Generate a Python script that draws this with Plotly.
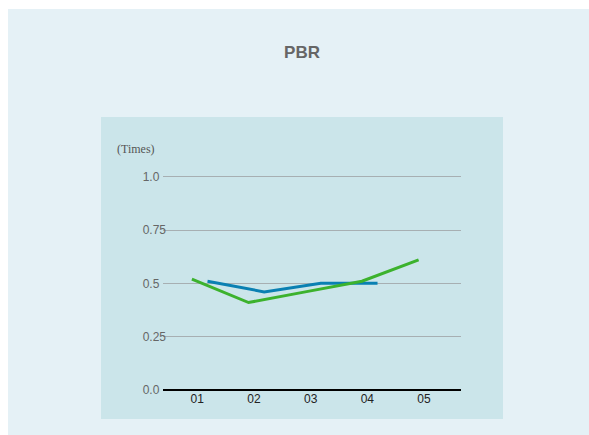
import plotly.graph_objects as go

# Fiscal-year categories and PBR values (times)
years = ["01", "02", "03", "04", "05"]
pbr_company = [0.51, 0.46, 0.50, 0.50]
pbr_market = [0.52, 0.41, 0.46, 0.51, 0.61]
y_ticks = [0.0, 0.25, 0.5, 0.75, 1.0]
y_tick_labels = ["0.0", "0.25", "0.5", "0.75", "1.0"]

W, H = 589, 435
OUTER_BG = "#e5f1f6"
INNER_BG = "#cbe5ea"
BLUE = "#0a80b2"
GREEN = "#3cb22d"

# slight horizontal offsets so the two series sit side by side on each category
OFFSET_COMPANY = 0.18
OFFSET_MARKET = -0.095

idx = list(range(len(years)))

fig = go.Figure()
fig.add_trace(go.Scatter(
    x=[i + OFFSET_COMPANY for i in idx[:len(pbr_company)]], y=pbr_company,
    mode="lines", line=dict(color=BLUE, width=3), name="Company",
    hoverinfo="skip",
))
fig.add_trace(go.Scatter(
    x=[i + OFFSET_MARKET for i in idx], y=pbr_market,
    mode="lines", line=dict(color=GREEN, width=3), name="Market",
    hoverinfo="skip",
))

# margins put the paper area on the inner panel; axes sit inside it
L, R, T, B = 101, 86, 117, 16
pw, ph = W - L - R, H - T - B

def px_x(p):
    return (p - L) / pw

def px_y(p):
    return (H - B - p) / ph

Y_TOP = 1.02          # a little headroom so the 1.0 grid line is drawn
PX_PER_UNIT = 213.3   # pixels per 1.0 on the value axis
Y_ZERO_PX = 390

fig.update_layout(
    template="none",
    width=W, height=H,
    margin=dict(l=L, r=R, t=T, b=B, pad=0, autoexpand=False),
    paper_bgcolor="white",
    plot_bgcolor="rgba(0,0,0,0)",
    showlegend=False,
    font=dict(family="Liberation Sans, Arial, sans-serif"),
    title=dict(
        text="<b>PBR</b>", xref="paper", x=0.5, xanchor="center",
        yref="container", y=1 - 52 / H, yanchor="middle",
        font=dict(size=17, color="#666666"),
    ),
    xaxis=dict(
        domain=[px_x(163), px_x(461)],
        range=[-0.605, 4.653],
        tickmode="array", tickvals=idx, ticktext=years,
        showgrid=False, zeroline=False, showline=False, ticks="",
        automargin=False,
        tickfont=dict(size=12, color="#222222"),
        fixedrange=True,
    ),
    yaxis=dict(
        domain=[px_y(Y_ZERO_PX), px_y(Y_ZERO_PX - Y_TOP * PX_PER_UNIT)],
        range=[0, Y_TOP],
        tickmode="array", tickvals=y_ticks,
        ticktext=[t + "\u2007" * (4 - len(t)) for t in y_tick_labels],
        showgrid=True, gridcolor="#a7afb2", gridwidth=1,
        zeroline=True, zerolinecolor="#000000", zerolinewidth=1.5,
        showline=False, ticks="",
        automargin=False,
        ticklabelstandoff=-4,
        tickfont=dict(size=12, color="#666666"),
        fixedrange=True,
    ),
    shapes=[
        dict(type="rect", xref="paper", yref="paper", layer="below",
             x0=px_x(8), x1=px_x(W + 2), y0=px_y(H + 2), y1=px_y(9),
             line=dict(width=0), fillcolor=OUTER_BG),
        dict(type="rect", xref="paper", yref="paper", layer="below",
             x0=0, x1=1, y0=0, y1=1,
             line=dict(width=0), fillcolor=INNER_BG),
    ],
    annotations=[
        dict(text="(Times)", xref="paper", yref="paper",
             x=px_x(115), y=px_y(149), xanchor="left", yanchor="middle",
             showarrow=False,
             font=dict(family="Liberation Serif, Times New Roman, serif",
                       size=12, color="#555555")),
    ],
)

fig.write_html("out.html")
